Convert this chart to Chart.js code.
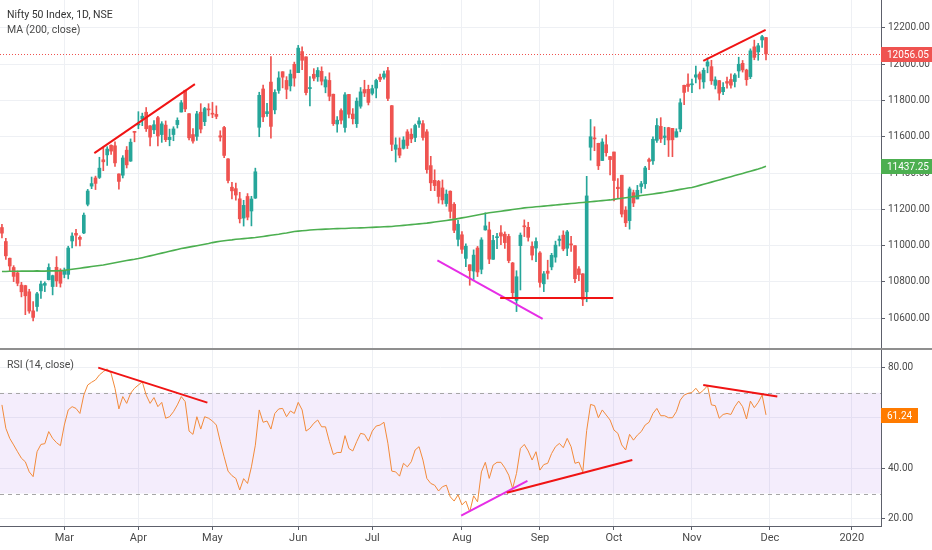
<!DOCTYPE html>
<html>
<head>
<meta charset="utf-8">
<script src="https://cdn.jsdelivr.net/npm/chart.js@4.4.1/dist/chart.umd.min.js"></script>
<style>
  html, body { margin: 0; padding: 0; background: #fff; }
  #wrap { position: relative; width: 932px; height: 550px; }
</style>
</head>
<body>
<div id="wrap"><canvas id="chart"></canvas></div>
<script>
// daily candles [open, high, low, close], one array per month
const feb = [
  [11100, 11118, 11043, 11069], [11023, 11041, 10925, 10944], [10931, 10932, 10862, 10888],
  [10880, 10890, 10802, 10831], [10850, 10861, 10779, 10793], [10783, 10798, 10718, 10746],
  [10780, 10782, 10620, 10724], [10746, 10760, 10628, 10640], [10641, 10692, 10585, 10605],
  [10665, 10743, 10640, 10735], [10751, 10805, 10709, 10789], [10782, 10801, 10747, 10792],
  [10813, 10900, 10811, 10880], [10775, 10838, 10729, 10835], [10881, 10940, 10775, 10806],
  [10865, 10873, 10772, 10793]
];
const mar = [
  [10842, 10877, 10823, 10864], [10842, 10997, 10817, 10987], [11026, 11071, 10988, 11053],
  [11068, 11090, 10999, 11058], [11046, 11054, 10998, 11035], [11070, 11180, 11066, 11168],
  [11228, 11310, 11219, 11301], [11328, 11378, 11314, 11342], [11373, 11383, 11309, 11343],
  [11376, 11487, 11370, 11427], [11473, 11543, 11413, 11462], [11500, 11545, 11442, 11532],
  [11553, 11556, 11503, 11521], [11550, 11572, 11436, 11456], [11395, 11396, 11311, 11354],
  [11388, 11496, 11373, 11483], [11526, 11546, 11428, 11445], [11466, 11588, 11464, 11570],
  [11625, 11630, 11572, 11624]
];
const apr = [
  [11665, 11738, 11644, 11669], [11697, 11730, 11661, 11713], [11735, 11761, 11629, 11644],
  [11660, 11662, 11550, 11598], [11638, 11689, 11617, 11666], [11705, 11713, 11549, 11604],
  [11612, 11683, 11569, 11671], [11664, 11687, 11573, 11584], [11584, 11642, 11550, 11597],
  [11612, 11655, 11578, 11643], [11667, 11704, 11648, 11690], [11736, 11800, 11736, 11787],
  [11856, 11856, 11738, 11753], [11727, 11727, 11583, 11594], [11612, 11645, 11564, 11576],
  [11602, 11740, 11579, 11726], [11735, 11782, 11621, 11642], [11683, 11762, 11661, 11755],
  [11750, 11782, 11715, 11748]
];
const may = [
  [11725, 11789, 11705, 11724], [11723, 11770, 11699, 11712], [11605, 11633, 11576, 11598],
  [11651, 11657, 11484, 11497], [11478, 11479, 11346, 11359], [11322, 11349, 11257, 11302],
  [11314, 11345, 11251, 11279], [11258, 11294, 11125, 11148], [11152, 11250, 11108, 11222],
  [11271, 11287, 11142, 11157], [11191, 11272, 11109, 11257], [11262, 11427, 11260, 11407],
  [11652, 11845, 11600, 11828], [11863, 11884, 11683, 11709], [11727, 11784, 11712, 11738],
  [11901, 12041, 11592, 11657], [11748, 11859, 11726, 11844], [11855, 11958, 11839, 11924],
  [11958, 11958, 11869, 11928], [11910, 11931, 11809, 11861], [11880, 11968, 11852, 11945],
  [11999, 12011, 11878, 11923]
];
const jun = [
  [11953, 12103, 11953, 12088], [12069, 12095, 11969, 12021], [12040, 12040, 11830, 11843],
  [11865, 11931, 11769, 11871], [11944, 11975, 11908, 11922], [11930, 11981, 11905, 11965],
  [11960, 11985, 11885, 11906], [11874, 11931, 11842, 11914], [11910, 11952, 11798, 11823],
  [11834, 11835, 11662, 11672], [11670, 11711, 11625, 11691], [11744, 11754, 11670, 11691],
  [11651, 11843, 11625, 11831], [11833, 11834, 11704, 11724], [11725, 11755, 11670, 11699],
  [11672, 11814, 11651, 11796], [11768, 11871, 11757, 11847], [11860, 11911, 11821, 11841],
  [11861, 11884, 11775, 11789]
];
const jul = [
  [11839, 11884, 11830, 11865], [11868, 11917, 11814, 11910], [11928, 11945, 11903, 11916],
  [11928, 11961, 11917, 11946], [11964, 11982, 11798, 11811], [11771, 11772, 11523, 11558],
  [11531, 11594, 11461, 11555], [11537, 11594, 11484, 11498], [11536, 11600, 11532, 11582],
  [11627, 11639, 11535, 11552], [11614, 11644, 11567, 11588], [11596, 11670, 11573, 11662],
  [11670, 11706, 11651, 11687], [11672, 11689, 11581, 11596], [11627, 11640, 11399, 11419],
  [11441, 11492, 11303, 11346], [11360, 11418, 11303, 11331], [11354, 11360, 11234, 11271],
  [11318, 11362, 11229, 11252], [11232, 11307, 11217, 11284], [11300, 11302, 11152, 11189],
  [11228, 11237, 11072, 11085], [11035, 11139, 10999, 11118]
];
const aug = [
  [11060, 11077, 10957, 10980], [10930, 11010, 10885, 10997], [10895, 10895, 10782, 10863],
  [10860, 10977, 10814, 10948], [10987, 10996, 10830, 10855], [10870, 11044, 10845, 11032],
  [11087, 11181, 11085, 11109], [11087, 11130, 10901, 10926], [10925, 11057, 10925, 11029],
  [11044, 11068, 10984, 11048], [11071, 11111, 11006, 11053], [11063, 11076, 10985, 11017],
  [11051, 11063, 10906, 10918], [10905, 10908, 10719, 10741], [10699, 10862, 10637, 10829],
  [11000, 11070, 10756, 11058], [11106, 11142, 11050, 11104], [11101, 11129, 11025, 11046],
  [10996, 11021, 10922, 10948], [10987, 11043, 10912, 11023]
];
const sep = [
  [10960, 10967, 10772, 10798], [10790, 10858, 10747, 10845], [10860, 10920, 10816, 10848],
  [10883, 10958, 10867, 10947], [10937, 11025, 10909, 11003], [11029, 11054, 10998, 11036],
  [11058, 11082, 10972, 10982], [10986, 11084, 10945, 11076], [11010, 11052, 10968, 11004],
  [11000, 11000, 10796, 10818], [10872, 10885, 10807, 10841], [10845, 10846, 10670, 10705],
  [10746, 11382, 10691, 11274], [11542, 11695, 11471, 11600], [11590, 11655, 11523, 11588],
  [11564, 11564, 11419, 11440], [11469, 11589, 11469, 11571], [11556, 11610, 11493, 11512],
  [11491, 11491, 11390, 11474]
];
const oct = [
  [11516, 11516, 11247, 11359], [11322, 11370, 11265, 11314], [11388, 11388, 11158, 11174],
  [11196, 11215, 11105, 11126], [11138, 11323, 11091, 11313], [11292, 11306, 11215, 11235],
  [11257, 11332, 11258, 11305], [11326, 11354, 11290, 11341], [11341, 11437, 11316, 11428],
  [11474, 11482, 11418, 11464], [11467, 11600, 11448, 11586], [11580, 11700, 11568, 11662],
  [11657, 11705, 11568, 11588], [11596, 11652, 11556, 11604], [11650, 11652, 11491, 11582],
  [11646, 11646, 11490, 11583], [11598, 11644, 11598, 11628], [11643, 11809, 11627, 11787],
  [11883, 11884, 11777, 11844], [11890, 11946, 11850, 11877]
];
const nov = [
  [11886, 11918, 11843, 11890], [11928, 11989, 11897, 11941], [11946, 11957, 11863, 11917],
  [11902, 11978, 11867, 11966], [11989, 12034, 11952, 12012], [11986, 12021, 11888, 11908],
  [11883, 11930, 11863, 11913], [11909, 11910, 11802, 11840], [11848, 11898, 11831, 11872],
  [11904, 11929, 11868, 11895], [11915, 11947, 11867, 11884], [11904, 11948, 11874, 11940],
  [11962, 12038, 11926, 11999], [12004, 12020, 11956, 11968], [11967, 11972, 11883, 11914],
  [11931, 12084, 11920, 12073], [12095, 12132, 12024, 12037], [12067, 12114, 12021, 12101],
  [12133, 12158, 12092, 12151], [12146, 12147, 12023, 12056.05]
];

const candleMonths = [feb, mar, apr, may, jun, jul, aug, sep, oct, nov];
const monthNames = ['', 'Mar', 'Apr', 'May', 'Jun', 'Jul', 'Aug', 'Sep', 'Oct', 'Nov'];
const emptyMonths = [['Dec', 21], ['2020', 8]];   // blank days to the right of the last bar

// 200 day moving average, one value per candle
const ma200 = [
  10858, 10858, 10859, 10859, 10859, 10860, 10860, 10860, 10860, 10861, 10860, 10860, 10861, 10861, 10861, 10862,
  10864, 10867, 10870, 10873, 10876, 10879, 10882, 10885, 10888, 10891, 10894, 10898, 10902, 10906, 10910, 10914, 10918, 10922, 10925,
  10929, 10934, 10939, 10944, 10949, 10954, 10959, 10964, 10969, 10974, 10979, 10984, 10988, 10992, 10996, 11000, 11004, 11008, 11012,
  11017, 11021, 11024, 11027, 11030, 11032, 11035, 11037, 11039, 11041, 11043, 11045, 11048, 11051, 11054, 11057, 11060, 11063, 11067, 11070, 11074, 11078,
  11080, 11082, 11084, 11086, 11088, 11089, 11090, 11091, 11092, 11093, 11094, 11095, 11095, 11096, 11097, 11097, 11098, 11099, 11100,
  11101, 11102, 11103, 11104, 11105, 11106, 11108, 11110, 11112, 11114, 11116, 11118, 11120, 11122, 11124, 11127, 11130, 11133, 11136, 11139, 11142, 11145, 11149,
  11153, 11157, 11161, 11165, 11169, 11173, 11177, 11181, 11184, 11187, 11190, 11193, 11196, 11199, 11202, 11205, 11208, 11210, 11212, 11214,
  11216, 11218, 11220, 11222, 11224, 11226, 11228, 11230, 11232, 11234, 11236, 11238, 11240, 11242, 11244, 11246, 11248, 11250, 11252,
  11255, 11258, 11261, 11264, 11267, 11270, 11273, 11276, 11279, 11282, 11285, 11288, 11291, 11294, 11298, 11302, 11306, 11310, 11314, 11318,
  11320, 11326, 11332, 11338, 11344, 11350, 11356, 11362, 11368, 11374, 11380, 11386, 11392, 11398, 11404, 11410, 11416, 11422, 11429, 11437.25
];

// RSI (14, close), one value per candle
const rsi14 = [
  65.2, 55.9, 51.9, 49.3, 46.6, 44.0, 42.6, 38.6, 36.7, 46.6, 49.5, 49.8, 54.6, 51.9, 50.2, 49.0,
  57.2, 63.2, 64.5, 63.8, 61.8, 69.1, 73.1, 74.2, 75.1, 77.1, 78.4, 79.5, 77.7, 71.8, 63.6, 68.5, 65.8, 69.8, 71.8,
  73.1, 74.4, 69.1, 65.8, 68.1, 64.5, 66.2, 59.9, 60.5, 62.5, 65.2, 68.5, 66.5, 54.8, 53.5, 60.5, 55.6, 60.5, 59.9,
  58.8, 57.2, 50.6, 44.6, 38.9, 37.1, 36.0, 31.4, 35.9, 34.0, 40.6, 49.2, 63.2, 58.3, 58.8, 55.6, 61.8, 63.6, 63.8, 60.5, 62.8, 61.8,
  66.2, 63.2, 54.8, 55.9, 57.9, 59.2, 56.5, 56.5, 50.6, 45.5, 46.3, 46.3, 53.0, 47.9, 46.9, 50.6, 53.9, 53.5, 50.8,
  54.8, 56.8, 57.2, 58.3, 50.0, 38.9, 38.6, 36.9, 42.0, 40.6, 42.6, 47.3, 48.6, 43.3, 36.0, 34.0, 33.3, 31.0, 32.7, 33.3, 28.7, 27.0, 29.5,
  25.5, 27.0, 22.7, 29.1, 26.7, 38.6, 42.4, 36.0, 41.3, 42.4, 42.4, 40.2, 37.3, 32.0, 38.0, 47.9, 49.5, 46.9, 43.3, 46.6,
  39.3, 41.5, 42.0, 45.9, 48.6, 49.9, 48.2, 51.9, 48.6, 42.0, 42.5, 38.6, 55.0, 65.4, 64.9, 60.1, 63.2, 61.2, 59.2,
  55.2, 53.9, 49.3, 47.3, 53.5, 51.2, 53.2, 54.6, 57.2, 58.3, 61.8, 63.8, 60.9, 60.9, 60.1, 60.1, 62.5, 67.1, 69.1, 69.8,
  70.1, 71.8, 69.8, 71.1, 72.8, 65.2, 64.9, 59.9, 61.4, 61.8, 61.4, 64.5, 66.7, 64.5, 59.6, 66.7, 64.1, 66.2, 69.1, 61.24
];

const priceTicks = [10600, 10800, 11000, 11200, 11400, 11600, 11800, 12000, 12200];
const rsiTicks = [20, 40, 60, 80];
const rsiBand = [30, 70];

// hand drawn lines: [bar index, value] pairs
const trendLines = [
  { pane: 'y', from: [23.7, 11510], to: [49.5, 11890], color: '#f01414' },
  { pane: 'y', from: [111.7, 10919], to: [138.7, 10597], color: '#e62ee6' },
  { pane: 'y', from: [127.8, 10712], to: [156.8, 10712], color: '#f01414' },
  { pane: 'y', from: [179.9, 12018], to: [195.9, 12189], color: '#f01414' },
  { pane: 'yRsi', from: [24.7, 80.0], to: [52.7, 66.1], color: '#f01414' },
  { pane: 'yRsi', from: [117.8, 21.2], to: [134.8, 35.0], color: '#e62ee6' },
  { pane: 'yRsi', from: [129.5, 30.3], to: [161.7, 43.3], color: '#f01414' },
  { pane: 'yRsi', from: [179.9, 73.1], to: [198.9, 68.5], color: '#f01414' }
];

const upColor = '#26a69a';
const downColor = '#ef5350';

let candles = [];
let labels = [];
candleMonths.forEach(function (m, k) {
  m.forEach(function (c, j) {
    candles.push(c);
    labels.push(j === 0 ? monthNames[k] : '');
  });
});
emptyMonths.forEach(function (e) {
  for (let j = 0; j < e[1]; j++) labels.push(j === 0 ? e[0] : '');
});

const colors = candles.map(c => c[3] >= c[0] ? upColor : downColor);
const lastCandle = candles[candles.length - 1];

// fixed axis size, and no extra room for half tick labels
function fitAxis(w, h) {
  return function (scale) {
    if (w) scale.width = w;
    if (h) scale.height = h;
    scale.paddingTop = 0;
    scale.paddingBottom = 0;
    scale.paddingLeft = 0;
    scale.paddingRight = 0;
  };
}

const decor = {
  id: 'decor',
  beforeDatasetsDraw(chart) {
    const { ctx, chartArea, scales } = chart;
    const yR = scales.yRsi, y = scales.y;
    const top = yR.getPixelForValue(rsiBand[1]);
    const bot = yR.getPixelForValue(rsiBand[0]);
    ctx.save();
    ctx.fillStyle = 'rgba(150, 80, 230, 0.1)';
    ctx.fillRect(chartArea.left, top, chartArea.width, bot - top);
    ctx.strokeStyle = '#a6a6a6';
    ctx.lineWidth = 1;
    ctx.setLineDash([4, 4]);
    [top, bot].forEach(function (py) {
      ctx.beginPath();
      ctx.moveTo(chartArea.left, Math.round(py) + 0.5);
      ctx.lineTo(chartArea.right, Math.round(py) + 0.5);
      ctx.stroke();
    });
    // last price dotted line
    const py = Math.round(y.getPixelForValue(lastCandle[3])) + 0.5;
    ctx.strokeStyle = downColor;
    ctx.setLineDash([1, 2]);
    ctx.beginPath();
    ctx.moveTo(chartArea.left, py);
    ctx.lineTo(chartArea.right, py);
    ctx.stroke();
    ctx.restore();
  },
  afterDatasetsDraw(chart) {
    const { ctx, scales } = chart;
    ctx.save();
    ctx.lineWidth = 2;
    trendLines.forEach(function (t) {
      const ys = scales[t.pane];
      ctx.strokeStyle = t.color;
      ctx.beginPath();
      ctx.moveTo(scales.x.getPixelForValue(t.from[0]), ys.getPixelForValue(t.from[1]));
      ctx.lineTo(scales.x.getPixelForValue(t.to[0]), ys.getPixelForValue(t.to[1]));
      ctx.stroke();
    });
    ctx.restore();
  },
  afterDraw(chart) {
    const { ctx, chartArea, scales } = chart;
    ctx.save();
    // pane separator
    ctx.strokeStyle = '#8f8f8f';
    ctx.lineWidth = 2;
    ctx.beginPath();
    ctx.moveTo(0, scales.yRsi.top);
    ctx.lineTo(chart.width, scales.yRsi.top);
    ctx.stroke();

    // value badges on the price scales
    function badge(scale, value, text, bg, w) {
      const py = scale.getPixelForValue(value);
      ctx.fillStyle = bg;
      ctx.fillRect(chartArea.right, Math.round(py) - 7, w, 15);
      ctx.fillStyle = '#fff';
      ctx.font = '10px Roboto';
      ctx.textBaseline = 'middle';
      ctx.textAlign = 'left';
      ctx.fillText(text, chartArea.right + 6, Math.round(py) + 1);
    }
    badge(scales.y, lastCandle[3], lastCandle[3].toFixed(2), downColor, 51);
    const lastMa = ma200[ma200.length - 1];
    badge(scales.y, lastMa, lastMa.toFixed(2), '#4caf50', 51);
    const lastRsi = rsi14[rsi14.length - 1];
    badge(scales.yRsi, lastRsi, lastRsi.toFixed(2), '#ff7b00', 37);

    // pane titles
    ctx.textBaseline = 'alphabetic';
    ctx.textAlign = 'left';
    ctx.fillStyle = '#333';
    ctx.font = '10.5px Roboto';
    ctx.fillText('Nifty 50 Index, 1D, NSE', 7, 18);
    ctx.fillStyle = '#4a4a4a';
    ctx.fillText('MA (200, close)', 7, 33);
    ctx.fillText('RSI (14, close)', 7, scales.yRsi.top + 19);
    ctx.restore();
  }
};

const gridColor = '#eef0f4';
const axisColor = '#5d606b';

new Chart(document.getElementById('chart'), {
  type: 'bar',
  data: {
    labels: labels,
    datasets: [
      {
        label: 'wick',
        data: candles.map(c => [c[2], c[1]]),
        backgroundColor: colors,
        barThickness: 1,
        grouped: false,
        yAxisID: 'y',
        order: 3
      },
      {
        label: 'body',
        data: candles.map(c => [c[0], c[3]]),
        backgroundColor: colors,
        barThickness: 3,
        minBarLength: 1,
        grouped: false,
        yAxisID: 'y',
        order: 2
      },
      {
        type: 'line',
        label: 'MA (200, close)',
        data: ma200,
        borderColor: '#4caf50',
        borderWidth: 1.6,
        pointRadius: 0,
        yAxisID: 'y',
        order: 1
      },
      {
        type: 'line',
        label: 'RSI (14, close)',
        data: rsi14,
        borderColor: '#f28a3a',
        borderWidth: 1,
        pointRadius: 0,
        yAxisID: 'yRsi',
        order: 1
      }
    ]
  },
  options: {
    responsive: true,
    maintainAspectRatio: false,
    animation: false,
    events: [],
    layout: { padding: 0 },
    plugins: { legend: { display: false }, tooltip: { enabled: false } },
    scales: {
      x: {
        type: 'category',
        offset: true,
        grid: { offset: false, color: gridColor, tickColor: axisColor, tickLength: 4 },
        border: { display: true, color: axisColor },
        ticks: {
          autoSkip: false,
          maxRotation: 0,
          padding: 2,
          color: '#4a4a4a',
          font: ctx => ({ family: 'Roboto', size: 11, weight: labels[ctx.index] === '2020' ? 'bold' : 'normal' }),
          callback: (v, i) => labels[i] ? labels[i] : null
        },
        afterFit: fitAxis(0, 24)
      },
      y: {
        position: 'right',
        stack: 'panes',
        stackWeight: 349,
        min: 10431,
        max: 12353,
        grid: { color: gridColor, tickColor: axisColor, tickLength: 4 },
        border: { display: true, color: axisColor },
        ticks: { color: '#4a4a4a', padding: 3, font: { family: 'Roboto', size: 10 }, callback: v => Number(v).toFixed(2) },
        afterBuildTicks: scale => { scale.ticks = priceTicks.map(v => ({ value: v })); },
        afterFit: fitAxis(51, 0)
      },
      yRsi: {
        position: 'right',
        stack: 'panes',
        stackWeight: 177,
        min: 17.1,
        max: 87.4,
        grid: { color: gridColor, tickColor: axisColor, tickLength: 4 },
        border: { display: true, color: axisColor },
        ticks: { color: '#4a4a4a', padding: 3, font: { family: 'Roboto', size: 10 }, callback: v => Number(v).toFixed(2) },
        afterBuildTicks: scale => { scale.ticks = rsiTicks.map(v => ({ value: v })); },
        afterFit: fitAxis(51, 0)
      }
    }
  },
  plugins: [decor]
});
</script>
</body>
</html>
